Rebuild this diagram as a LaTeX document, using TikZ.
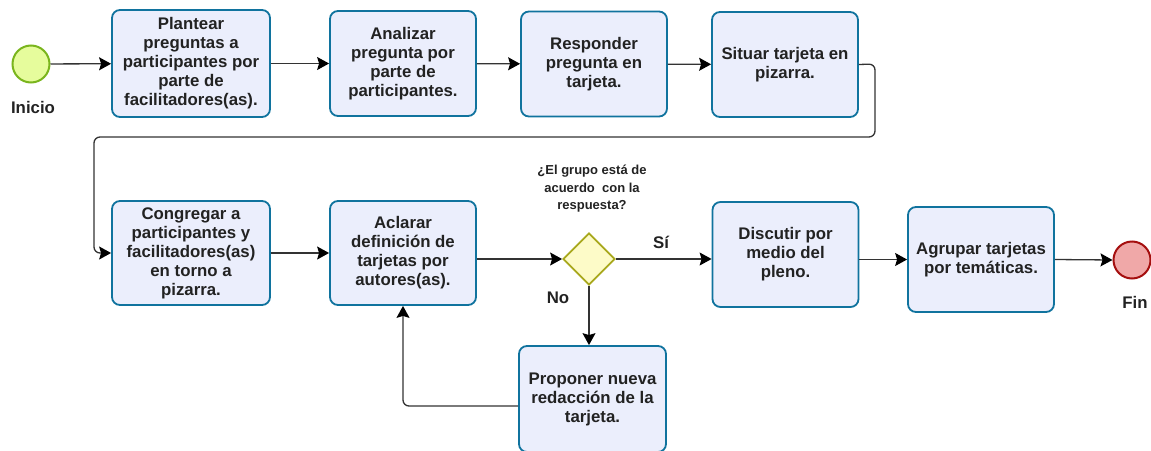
\documentclass[tikz,border=0pt]{standalone}
\usepackage{fontspec}
\setmainfont{Liberation Sans}
\usepackage{tikz}
\usetikzlibrary{shapes.geometric, arrows.meta}

\definecolor{boxfill}{HTML}{EBEEFC}
\definecolor{boxline}{HTML}{10739E}
\definecolor{startfill}{HTML}{E6FC9C}
\definecolor{startline}{HTML}{7AB51D}
\definecolor{endfill}{HTML}{F0A8A8}
\definecolor{endline}{HTML}{A50F0F}
\definecolor{gwfill}{HTML}{FDFBC8}
\definecolor{gwline}{HTML}{A8A81C}
\definecolor{flowline}{HTML}{333333}
\definecolor{txt}{HTML}{222222}

\begin{document}
\begin{tikzpicture}[x=1pt, y=-1pt,
    task/.style={rectangle, rounded corners=8pt, draw=boxline, line width=1.8pt,
        fill=boxfill, minimum width=146pt, minimum height=105pt, align=center,
        text=txt, font=\fontsize{16.8}{19}\selectfont\bfseries},
    wide/.style={minimum width=158pt},
    event/.style={circle, minimum size=37pt, inner sep=0pt, line width=2pt},
    gateway/.style={diamond, draw=gwline, fill=gwfill, line width=1.8pt,
        minimum width=52pt, minimum height=52pt, inner sep=0pt},
    lbl/.style={text=txt, font=\fontsize{16.8}{19}\selectfont\bfseries, align=center},
    flow/.style={draw=flowline, line width=1.3pt,
        -{Stealth[length=12pt, width=13pt, inset=2pt, sharp, black]}},
    loop/.style={flow, rounded corners=6pt}]
    \useasboundingbox (0,0) rectangle (1151,450);

    % Start and end events
    \node[event, draw=startline, fill=startfill] (inicio) at (31,64) {};
    \node[lbl] (inicioL) at (33,107) {Inicio};
    \node[event, draw=endline, fill=endfill] (fin) at (1132,260) {};
    \node[lbl] (finL) at (1135,302) {Fin};

    % First row of tasks
    \node[task, wide, minimum height=107pt] (plantear) at (191,63.5)
        {Plantear\\preguntas a\\participantes por\\parte de\\facilitadores(as).};
    \node[task] (analizar) at (403,63.5)
        {Analizar\\pregunta por\\parte de\\participantes.};
    \node[task] (responder) at (594,64)
        {Responder\\pregunta en\\tarjeta.};
    \node[task] (situar) at (785,64.5)
        {Situar tarjeta en\\pizarra.};

    % Second row of tasks
    \node[task, wide, minimum height=104pt] (congregar) at (191,253)
        {Congregar a\\participantes y\\facilitadores(as)\\en torno a\\pizarra.};
    \node[task, minimum height=104pt] (aclarar) at (403,253)
        {Aclarar\\definición de\\tarjetas por\\autores(as).};
    \node[gateway] (grupo) at (589,259) {};
    \node[lbl, font=\fontsize{13}{17.5}\selectfont\bfseries] (pregunta) at (592,189)
        {¿El grupo está de\\acuerdo\ \ con la\\respuesta?};
    \node[task] (discutir) at (785.5,254.5)
        {Discutir por\\medio del\\pleno.};
    \node[task] (agrupar) at (981,259.5)
        {Agrupar tarjetas\\por temáticas.};
    \node[task, minimum width=147pt, minimum height=106pt] (proponer) at (592.5,399)
        {Proponer nueva\\redacción de la\\tarjeta.};
    \node[lbl] (si) at (661,242) {Sí};
    \node[lbl] (no) at (558,298) {No};

    % Sequence flows
    \draw[flow] (inicio) -- (plantear);
    \draw[flow] (plantear) -- (analizar);
    \draw[flow] (analizar) -- (responder);
    \draw[flow] (responder) -- (situar);
    \draw[loop] (situar.east) -- (875,64) -- (875,137) -- (94,137) -- (94,253) -- (congregar.west);
    \draw[flow] (congregar) -- (aclarar);
    \draw[flow] (aclarar.east |- grupo.west) -- (grupo.west);
    \draw[flow] (grupo.east) -- (grupo.east -| discutir.west);
    \draw[flow] (discutir.east |- agrupar.west) -- (agrupar.west);
    \draw[flow] (agrupar.east) -- (fin.west);
    \draw[flow] (grupo.south) -- (grupo.south |- proponer.north);
    \draw[loop] ([yshift=-7pt]proponer.west) -| (aclarar.south);
\end{tikzpicture}
\end{document}
